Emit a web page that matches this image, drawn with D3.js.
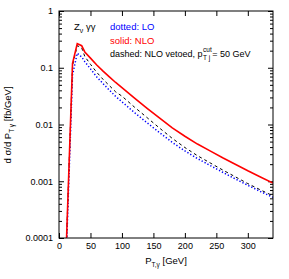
<!DOCTYPE html>
<html>
<head>
<meta charset="utf-8">
<script src="https://cdn.jsdelivr.net/npm/d3@7"></script>
<style>
  body { margin: 0; background: #fff; }
  text { font-family: "Liberation Sans", Arial, sans-serif; }
</style>
</head>
<body>
<script>
var pt = [12, 21.5, 29, 36, 41, 50, 60, 70, 80, 90, 100, 120, 140, 160, 180, 200, 220, 240, 260, 280, 300, 320, 340];

// d sigma / d pT [fb/GeV]
var nlo = [1e-4, 0.12, 0.267, 0.245, 0.19, 0.148, 0.112, 0.087, 0.069, 0.055, 0.0447, 0.0292, 0.0193, 0.0129,
  0.0087, 0.0062, 0.00452, 0.00343, 0.0026, 0.0020, 0.00153, 0.00119, 0.00093];
var lo = [7e-5, 0.075, 0.18, 0.155, 0.128, 0.0955, 0.069, 0.0525, 0.0403, 0.0313, 0.0251, 0.0162, 0.0107, 0.00716,
  0.00484, 0.00342, 0.00251, 0.0019, 0.00144, 0.0011, 0.00085, 0.00066, 0.00052];
var vetoed = [1e-4, 0.11, 0.245, 0.225, 0.158, 0.115, 0.083, 0.0624, 0.0484, 0.0376, 0.0316, 0.0202, 0.0132, 0.0086,
  0.00569, 0.00393, 0.00282, 0.00211, 0.00158, 0.0012, 0.00091, 0.000705, 0.000553];

var xTicks = [0, 50, 100, 150, 200, 250, 300];
var yTicks = [1, 0.1, 0.01, 0.001, 0.0001];

var w = 289, h = 279;
var margin = {left: 59, right: 16, top: 11, bottom: 41};

var svg = d3.select('body').append('svg')
  .attr('width', w)
  .attr('height', h);

var xScale = d3.scaleLinear()
  .domain([0, 340])
  .range([margin.left, w - margin.right]);

var yScale = d3.scaleLog()
  .domain([1e-4, 1])
  .range([h - margin.bottom, margin.top]);

// minor log ticks: 2..9 in every decade
var minor = yScale.ticks().filter(d => yTicks.indexOf(d) < 0);

var fmt = d => String(d);

svg.append('g')
  .attr('transform', `translate(0,${h - margin.bottom})`)
  .call(d3.axisBottom(xScale).tickValues(xTicks).tickSize(-5).tickPadding(5).tickFormat(fmt));
svg.append('g')
  .attr('transform', `translate(0,${margin.top})`)
  .call(d3.axisTop(xScale).tickValues(xTicks).tickSize(-5).tickFormat(''));

svg.append('g')
  .attr('transform', `translate(${margin.left},0)`)
  .call(d3.axisLeft(yScale).tickValues(yTicks).tickSize(-5).tickPadding(6).tickFormat(fmt));
svg.append('g')
  .attr('transform', `translate(${margin.left},0)`)
  .call(d3.axisLeft(yScale).tickValues(minor).tickSize(-3).tickFormat(''));
svg.append('g')
  .attr('transform', `translate(${w - margin.right},0)`)
  .call(d3.axisRight(yScale).tickValues(yTicks).tickSize(-5).tickFormat(''));
svg.append('g')
  .attr('transform', `translate(${w - margin.right},0)`)
  .call(d3.axisRight(yScale).tickValues(minor).tickSize(-3).tickFormat(''));

svg.selectAll('.domain').remove();
svg.selectAll('.tick line').attr('stroke', '#000');
svg.selectAll('.tick text')
  .attr('fill', '#000')
  .style('font-size', '9px')
  .style('font-family', '"Liberation Sans", Arial, sans-serif');

svg.append('defs').append('clipPath')
  .attr('id', 'clip')
  .append('rect')
  .attr('x', margin.left)
  .attr('y', margin.top)
  .attr('width', w - margin.left - margin.right)
  .attr('height', h - margin.top - margin.bottom);

var line = d3.line()
  .x(d => xScale(d[0]))
  .y(d => yScale(d[1]));

var plot = svg.append('g').attr('clip-path', 'url(#clip)');

plot.append('path')
  .datum(d3.zip(pt, lo))
  .attr('d', line)
  .attr('fill', 'none')
  .attr('stroke', '#0000ff')
  .attr('stroke-width', 1.5)
  .attr('stroke-dasharray', '1.3,2');

plot.append('path')
  .datum(d3.zip(pt, vetoed))
  .attr('d', line)
  .attr('fill', 'none')
  .attr('stroke', '#000')
  .attr('stroke-width', 1)
  .attr('stroke-dasharray', '3,3');

plot.append('path')
  .datum(d3.zip(pt, nlo))
  .attr('d', line)
  .attr('fill', 'none')
  .attr('stroke', '#ff0000')
  .attr('stroke-width', 1.6);

svg.append('rect')
  .attr('x', margin.left)
  .attr('y', margin.top)
  .attr('width', w - margin.left - margin.right)
  .attr('height', h - margin.top - margin.bottom)
  .attr('fill', 'none')
  .attr('stroke', '#000')
  .attr('stroke-width', 1);

// process label
var proc = svg.append('text')
  .attr('x', 74)
  .attr('y', 30)
  .style('font-size', '9.5px');
proc.append('tspan').text('Z');
proc.append('tspan').attr('dy', 2.5).style('font-size', '7px').text('ν');
proc.append('tspan').attr('dy', -2.5).text(' γγ');

// legend
var lx = 110;
svg.append('text')
  .attr('x', lx).attr('y', 30)
  .attr('fill', '#0000ff')
  .style('font-size', '9.5px')
  .text('dotted: LO');
svg.append('text')
  .attr('x', lx).attr('y', 43.5)
  .attr('fill', '#ff0000')
  .style('font-size', '9.5px')
  .text('solid: NLO');

var dash = svg.append('text')
  .attr('x', lx).attr('y', 57)
  .style('font-size', '9px')
  .text('dashed: NLO vetoed, p');
var dw = dash.node().getComputedTextLength();
var sub = svg.append('text')
  .attr('x', lx + dw + 0.5).attr('y', 59.5)
  .style('font-size', '6.5px')
  .text('T j');
var sup = svg.append('text')
  .attr('x', lx + dw + 0.5).attr('y', 51.5)
  .style('font-size', '6.5px')
  .text('cut');
var sw = Math.max(sub.node().getComputedTextLength(), sup.node().getComputedTextLength());
svg.append('text')
  .attr('x', lx + dw + sw + 1).attr('y', 57)
  .style('font-size', '9px')
  .text('= 50 GeV');

// axis titles
var xl = svg.append('text')
  .attr('x', 166)
  .attr('y', 264)
  .attr('text-anchor', 'middle')
  .style('font-size', '9.5px');
xl.append('tspan').text('P');
xl.append('tspan').attr('dy', 2.5).style('font-size', '6.5px').text('T,γ');
xl.append('tspan').attr('dy', -2.5).text(' [GeV]');

var yl = svg.append('text')
  .attr('text-anchor', 'middle')
  .attr('transform', 'translate(11,125)rotate(-90)')
  .style('font-size', '9.5px');
yl.append('tspan').text('d σ/d P');
yl.append('tspan').attr('dy', 2.5).style('font-size', '6.5px').text('T γ');
yl.append('tspan').attr('dy', -2.5).text(' [fb/GeV]');
</script>
</body>
</html>
